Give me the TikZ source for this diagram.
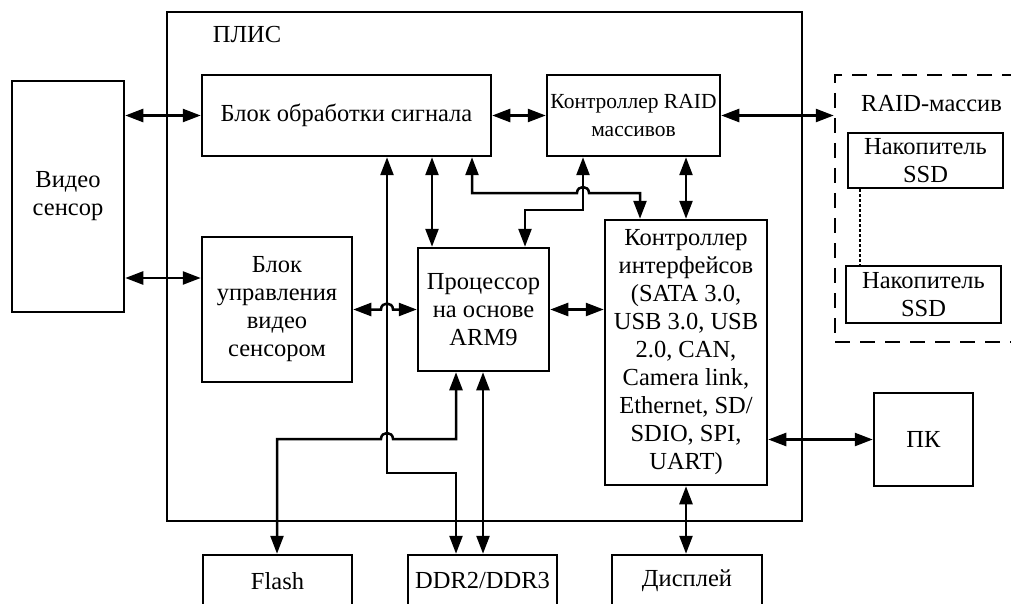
\documentclass[tikz,border=0pt]{standalone}
\usepackage{fontspec}
\setmainfont{Liberation Serif}
\usetikzlibrary{arrows.meta}
\begin{document}
\begin{tikzpicture}[x=1pt,y=-1pt,line width=2.5pt,
  >={Triangle[length=18pt,width=13pt]},
  box/.style={draw,rectangle,inner sep=0pt,align=center,font=\fontsize{24.5}{28}\selectfont},
  lbl/.style={inner sep=0pt,align=center,font=\fontsize{24.5}{28}\selectfont},
  raidbox/.style={draw,rectangle,inner sep=0pt,dash pattern=on 15pt off 10pt},
  conn/.style={<->}]
\path[use as bounding box] (0,0) rectangle (1011,604);
\clip (0,0) rectangle (1011,604);
% boxes
\node[box,minimum width=635pt,minimum height=509pt] (plis) at (484.5,266.5) {};
\node[lbl] (plislbl) at (247,35) {ПЛИС};
\node[box,minimum width=112pt,minimum height=231pt] (vs) at (68,196.5) {Видео\\сенсор};
\node[box,minimum width=289pt,minimum height=81pt] (bos) at (346.5,115.5) {Блок обработки сигнала};
\node[box,minimum width=173pt,minimum height=81pt,font=\fontsize{21.5}{28}\selectfont] (raidc) at (633.5,115.5) {Контроллер RAID\\массивов};
\node[box,minimum width=150pt,minimum height=145pt] (buvs) at (277,309.5) {Блок\\управления\\видео\\сенсором};
\node[box,minimum width=131pt,minimum height=123pt] (cpu) at (483.5,309.5) {Процессор\\на основе\\ARM9};
\node[box,minimum width=162pt,minimum height=265pt] (ci) at (686,352.5) {Контроллер\\интерфейсов\\(SATA 3.0,\\USB 3.0, USB\\2.0, CAN,\\Camera link,\\Ethernet, SD/\\SDIO, SPI,\\UART)};
\node[raidbox,minimum width=195pt,minimum height=267pt] (raidm) at (932.5,208.5) {};
\node[lbl] (raidlbl) at (931.5,104) {RAID-массив};
\node[box,minimum width=155pt,minimum height=55pt] (ssd1) at (925.5,160.5) {Накопитель\\SSD};
\node[box,minimum width=155pt,minimum height=57pt] (ssd2) at (923.5,294.5) {Накопитель\\SSD};
\node[box,minimum width=99pt,minimum height=93pt] (pc) at (923.5,439.5) {ПК};
\node[box,minimum width=149pt,minimum height=52pt] (flash) at (277.5,581) {Flash};
\node[box,minimum width=149pt,minimum height=52pt] (ddr) at (482.5,581) {DDR2/DDR3};
\node[box,minimum width=150pt,minimum height=52pt] (disp) at (687,581) {Дисплей};
% dotted link between SSDs
\coordinate (s1) at (860,200);
\draw[dash pattern=on 2.5pt off 2.5pt,line width=2pt] (s1 |- ssd1.south) -- (s1 |- ssd2.north);
% connectors
\coordinate (v2) at (124,278);
\draw[conn] (vs.east |- bos.west) -- (bos.west);
\draw[conn] (vs.east |- v2) -- (buvs.west |- v2);
\draw[conn] (bos.east) -- (raidc.west);
\draw[conn] (raidc.east) -- (raidm.west |- raidc.east);
\coordinate (h1) at (387,309.5);
\draw[conn] (buvs.east) -- ([xshift=-6pt]h1) .. controls +(0,-8) and +(0,-8) .. ([xshift=6pt]h1) -- (cpu.west);
\draw[conn] (cpu.east) -- (ci.west |- cpu.east);
\draw[conn] (ci.east |- pc.west) -- (pc.west);
\draw[conn] (ci.south) -- (ci.south |- disp.north);
\draw[conn] (ci.north |- raidc.south) -- (ci.north);
\coordinate (d1) at (432,200);
\draw[conn] (d1 |- bos.south) -- (d1 |- cpu.north);
\coordinate (b1) at (472,193); \coordinate (b2) at (640,193); \coordinate (h3) at (583,193);
\draw[conn] (b1 |- bos.south) -- (b1) -- ([xshift=-6pt]h3) .. controls +(0,-8) and +(0,-8) .. ([xshift=6pt]h3) -- (b2) -- (b2 |- ci.north);
\coordinate (c1) at (583,210); \coordinate (c2) at (525,210);
\draw[conn] (c1 |- raidc.south) -- (c1) -- (c2) -- (c2 |- cpu.north);
\coordinate (e1) at (387,473); \coordinate (e2) at (456,473);
\draw[conn] (e1 |- bos.south) -- (e1) -- (e2) -- (e2 |- ddr.north);
\coordinate (f1) at (456,439); \coordinate (f2) at (277,439); \coordinate (h2) at (387,439);
\draw[conn] (f1 |- cpu.south) -- (f1) -- ([xshift=6pt]h2) .. controls +(0,-8) and +(0,-8) .. ([xshift=-6pt]h2) -- (f2) -- (f2 |- flash.north);
\coordinate (g1) at (483,400);
\draw[conn] (g1 |- cpu.south) -- (g1 |- ddr.north);
\end{tikzpicture}
\end{document}
